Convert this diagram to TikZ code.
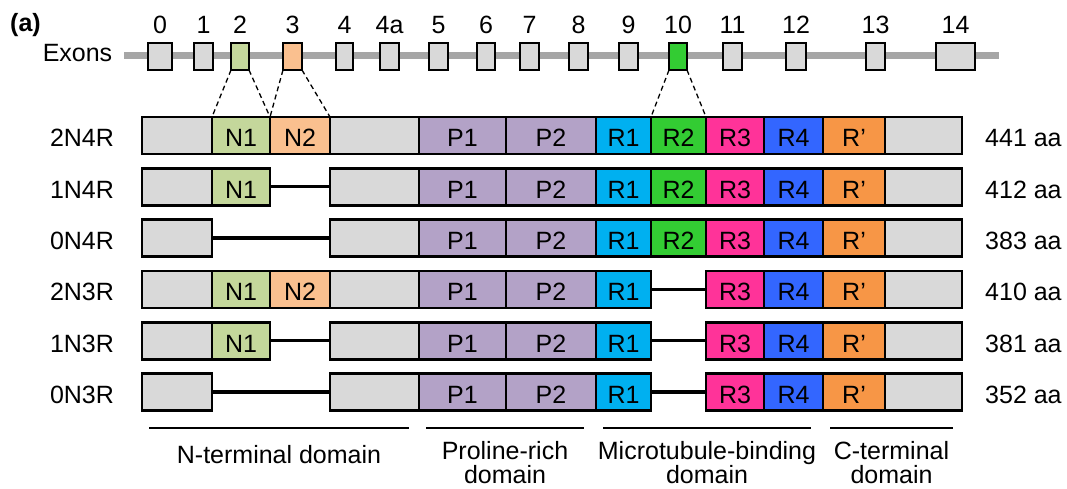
\documentclass[tikz,border=0pt]{standalone}
\usepackage{fontspec}
\setmainfont{Liberation Sans}
\definecolor{cgray}{HTML}{D9D9D9}
\definecolor{cN1}{HTML}{C4D79B}
\definecolor{cN2}{HTML}{FAC08F}
\definecolor{cP}{HTML}{B3A2C7}
\definecolor{cR1}{HTML}{00B0F0}
\definecolor{cR2}{HTML}{33CC33}
\definecolor{cR3}{HTML}{FF3399}
\definecolor{cR4}{HTML}{3366FF}
\definecolor{cRp}{HTML}{F79646}
\definecolor{cline}{HTML}{A6A6A6}
\newcommand\mkseg[6]{%
  \pgfmathsetmacro\segw{#3-#2}%
  \node[segbox, fill=#5, minimum width=\segw pt, anchor=north west] (#1) at (#2,#4) {#6};%
}
\newcommand\mkexon[5]{%
  \pgfmathsetmacro\exw{#3-#2}%
  \pgfmathsetmacro\exc{(#2+#3)/2}%
  \node[exonbox, fill=#4, minimum width=\exw pt] (e#1) at (\exc,56.5) {};%
  \node[txt, anchor=base] (le#1) at (\exc,34) {#5};%
}
\tikzset{
  txt/.style={font=\fontsize{25}{30}\selectfont, inner sep=0pt},
  segbox/.style={draw=black, line width=1.6pt, inner sep=0pt, outer sep=0pt,
    minimum height=37pt, text height=23pt, text depth=0pt,
    font=\fontsize{25}{30}\selectfont},
  exonbox/.style={draw=black, line width=2.4pt, inner sep=0pt, outer sep=0pt,
    minimum height=27pt},
  outer/.style={draw=black, line width=2.6pt},
  gapline/.style={draw=black, line width=3.3pt},
  dashedge/.style={draw=black, line width=1.3pt, dash pattern=on 5pt off 3.5pt},
  domline/.style={draw=black, line width=2.2pt},
}
\begin{document}
\begin{tikzpicture}[x=1pt,y=-1pt]
\useasboundingbox (0,0) rectangle (1067,489);
% title and exon track
\node[txt, anchor=base west, font=\fontsize{25}{30}\selectfont\bfseries] (title) at (10,32) {(a)};
\node[txt, anchor=base] (exons) at (77.5,62) {Exons};
\coordinate (exL) at (124,55.5);
\coordinate (exR) at (999,55.5);
\draw[cline, line width=7pt] (exL) -- (exR);
\mkexon{0}{148}{172}{cgray}{0}
\mkexon{1}{194}{213}{cgray}{1}
\mkexon{2}{231}{249}{cN1}{2}
\mkexon{3}{283}{302}{cN2}{3}
\mkexon{4}{336}{353}{cgray}{4}
\mkexon{4a}{380}{399}{cgray}{4a}
\mkexon{5}{429}{448}{cgray}{5}
\mkexon{6}{477}{495}{cgray}{6}
\mkexon{7}{520}{539}{cgray}{7}
\mkexon{8}{569}{588}{cgray}{8}
\mkexon{9}{619}{638}{cgray}{9}
\mkexon{10}{669}{687}{cR2}{10}
\mkexon{11}{723}{742}{cgray}{11}
\mkexon{12}{786}{806}{cgray}{12}
\mkexon{13}{866}{885}{cgray}{13}
\mkexon{14}{936}{975}{cgray}{14}
% isoform rows
\foreach \r/\lab/\aa/\nn/\rr in {0/2N4R/441/2/4,1/1N4R/412/1/4,2/0N4R/383/0/4,3/2N3R/410/2/3,4/1N3R/381/1/3,5/0N3R/352/0/3}{
  \pgfmathsetmacro\T{117+51.3*\r}
  \pgfmathsetmacro\B{\T+30}
  \node[txt, anchor=base] (lab\r) at (82,\B) {\lab};
  \node[txt, anchor=base west] (aa\r) at (985,\B) {\aa\ aa};
  \mkseg{g1r\r}{142}{212}{\T}{cgray}{}
  \ifnum\nn>0 \mkseg{n1r\r}{212}{270}{\T}{cN1}{N1}\fi
  \ifnum\nn>1 \mkseg{n2r\r}{270}{330}{\T}{cN2}{N2}\fi
  \mkseg{g2r\r}{330}{419}{\T}{cgray}{}
  \mkseg{p1r\r}{419}{506}{\T}{cP}{P1}
  \mkseg{p2r\r}{506}{596}{\T}{cP}{P2}
  \mkseg{r1r\r}{596}{651}{\T}{cR1}{R1}
  \ifnum\rr=4 \mkseg{r2r\r}{651}{706}{\T}{cR2}{R2}\fi
  \mkseg{r3r\r}{706}{764}{\T}{cR3}{R3}
  \mkseg{r4r\r}{764}{823}{\T}{cR4}{R4}
  \mkseg{rpr\r}{823}{885}{\T}{cRp}{R’}
  \mkseg{g3r\r}{885}{962}{\T}{cgray}{}
  \ifnum\nn=2 \def\mstart{g1r\r}\else \def\mstart{g2r\r}\fi
  \ifnum\nn=1
    \draw[outer] (g1r\r.north west) rectangle (n1r\r.south east);
    \draw[gapline] (n1r\r.east) -- (g2r\r.west);
  \fi
  \ifnum\nn=0
    \draw[outer] (g1r\r.north west) rectangle (g1r\r.south east);
    \draw[gapline] (g1r\r.east) -- (g2r\r.west);
  \fi
  \ifnum\rr=4
    \draw[outer] (\mstart.north west) rectangle (g3r\r.south east);
  \else
    \draw[outer] (\mstart.north west) rectangle (r1r\r.south east);
    \draw[outer] (r3r\r.north west) rectangle (g3r\r.south east);
    \draw[gapline] (r1r\r.east) -- (r3r\r.west);
  \fi
}
% dashed projections
\draw[dashedge] (e2.south west) -- (n1r0.north west);
\draw[dashedge] (e2.south east) -- (n1r0.north east);
\draw[dashedge] (e3.south west) -- (n2r0.north west);
\draw[dashedge] (e3.south east) -- (n2r0.north east);
\draw[dashedge] (e10.south west) -- (r2r0.north west);
\draw[dashedge] (e10.south east) -- (r2r0.north east);
% domains
\coordinate (d1a) at (149,428); \coordinate (d1b) at (409,428);
\coordinate (d2a) at (426,428); \coordinate (d2b) at (584,428);
\coordinate (d3a) at (603,428); \coordinate (d3b) at (811,428);
\coordinate (d4a) at (830,428); \coordinate (d4b) at (953,428);
\draw[domline] (d1a) -- (d1b);
\draw[domline] (d2a) -- (d2b);
\draw[domline] (d3a) -- (d3b);
\draw[domline] (d4a) -- (d4b);
\node[txt, anchor=base] (dom1) at (279,463) {N-terminal domain};
\node[txt, anchor=base] (dom2a) at (505,459) {Proline-rich};
\node[txt, anchor=base] (dom2b) at (505,483) {domain};
\node[txt, anchor=base] (dom3a) at (707,459) {Microtubule-binding};
\node[txt, anchor=base] (dom3b) at (707,483) {domain};
\node[txt, anchor=base] (dom4a) at (891.5,459) {C-terminal};
\node[txt, anchor=base] (dom4b) at (891.5,483) {domain};
\end{tikzpicture}
\end{document}
